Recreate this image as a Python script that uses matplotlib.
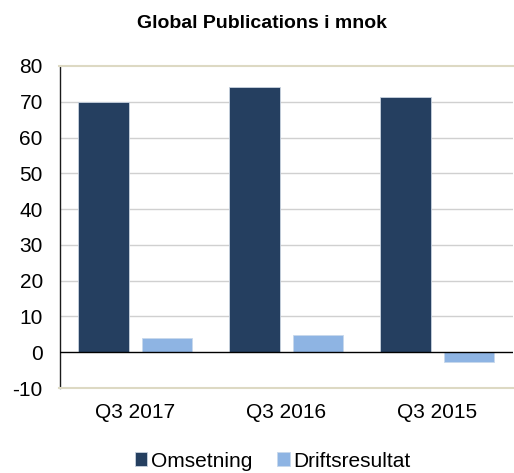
import numpy as np
import matplotlib
matplotlib.use("Agg")
import matplotlib.pyplot as plt

categories = ["Q3 2017", "Q3 2016", "Q3 2015"]
omsetning = [70.0, 74.0, 71.2]
driftsresultat = [4.0, 4.9, -2.8]
y_ticks = [-10, 0, 10, 20, 30, 40, 50, 60, 70, 80]

plt.rcParams["font.family"] = ["Liberation Sans", "DejaVu Sans"]

fig = plt.figure(figsize=(5.14, 4.73), dpi=100)
ax = fig.add_axes([59.5 / 514, 1 - 388 / 473, (513 - 59.5) / 514, (388 - 66) / 473])

x = np.arange(len(categories))
w = 0.335
off = 0.21
ax.bar(x - off, omsetning, w, color="#253F60", edgecolor="#C8D3E0", linewidth=0.6,
       label="Omsetning", zorder=3)
ax.bar(x + off, driftsresultat, w, color="#8EB4E3", edgecolor="#C8D8EC", linewidth=0.6,
       label="Driftsresultat", zorder=3)

ax.set_xlim(-0.5, 2.5)
ax.set_ylim(-10, 80)
ax.set_yticks(y_ticks)
ax.set_yticklabels([str(v) for v in y_ticks], fontsize=15)
ax.set_xticks(x)
ax.set_xticklabels(categories, fontsize=15)
ax.tick_params(axis="both", length=0, colors="black")
ax.tick_params(axis="y", pad=12)
ax.tick_params(axis="x", pad=11)

for v in y_ticks[2:-1]:
    ax.axhline(v, color="#D0D0D0", linewidth=1.0, zorder=1)
ax.axhline(0, color="black", linewidth=1.0, zorder=4)

ax.spines["right"].set_visible(False)
ax.spines["top"].set_color("#DDD9C3")
ax.spines["bottom"].set_color("#DDD9C3")
ax.spines["top"].set_linewidth(1.5)
ax.spines["bottom"].set_linewidth(1.5)
ax.spines["left"].set_color("#1a1a1a")
ax.spines["left"].set_linewidth(1.0)

fig.text(0.51, 1 - 23 / 473, "Global Publications i mnok", ha="center", va="center",
         fontsize=14, fontweight="bold")

fig.legend(loc="center", bbox_to_anchor=(0.53, 1 - 461 / 473), ncol=2, frameon=False,
           fontsize=15, handlelength=0.62, handleheight=0.62, handletextpad=0.15,
           columnspacing=1.2, borderpad=0, borderaxespad=0)

fig.savefig("out.png", dpi=100)
